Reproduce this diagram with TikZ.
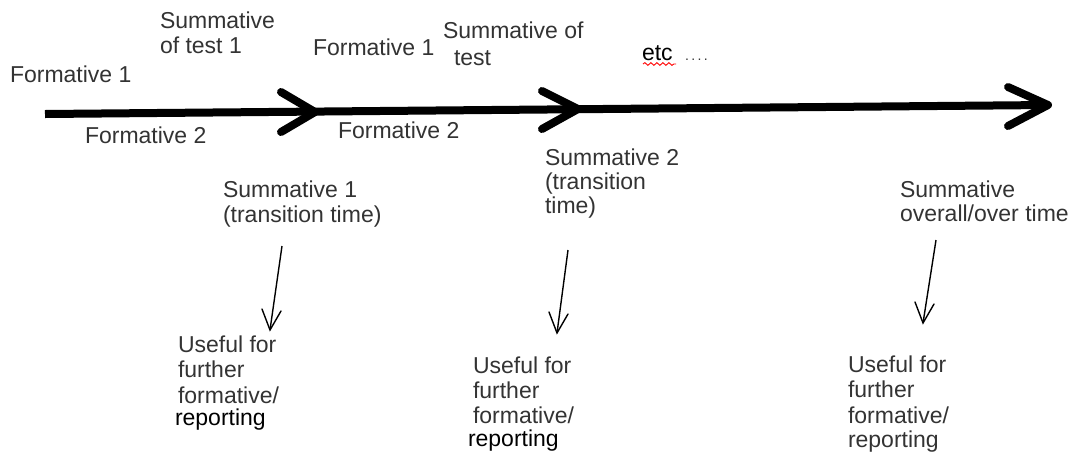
\documentclass[tikz,border=0pt]{standalone}
\usepackage{fontspec}
\setmainfont{Liberation Sans}
\usetikzlibrary{decorations.pathmorphing}
\definecolor{txt}{HTML}{333333}
\tikzset{
  lbl/.style={anchor=base west, inner sep=0pt, outer sep=0pt, text=txt, font=\fontsize{23}{25}\selectfont},
  blk/.style={lbl, text=black},
  mainline/.style={line width=8pt, black},
  chev/.style={line width=8pt, line cap=round, line join=round, black},
  down/.style={line width=1.4pt, black},
  head/.style={line width=1.4pt, black, line cap=round},
}
\begin{document}
\begin{tikzpicture}[x=1pt,y=-1pt]
\useasboundingbox (0,0) rectangle (1075,459);
% main timeline
\coordinate (start) at (45,114);
\coordinate (tip1) at (315,112);
\coordinate (tip2) at (578,109);
\coordinate (tip3) at (1048,105);
\draw[mainline] (start) -- (tip3);
\draw[chev] (281,92) -- (tip1) -- (281,132);
\draw[chev] (542,91) -- (tip2) -- (542,129);
\draw[chev] (1008,87) -- (tip3) -- (1008,126);

% labels above/below the line
\node[lbl] (f1a) at (10,82) {Formative 1};
\node[lbl] (s1a) at (160,28.5) {Summative};
\node[lbl] (s1b) at (160,53) {of test 1};
\node[lbl] (f2a) at (85,143) {Formative 2};
\node[lbl] (f1b) at (313,55) {Formative 1};
\node[lbl] (sob1) at (443,38) {Summative of};
\node[lbl] (sob2) at (454,65) {test};
\node[lbl] (f2b) at (338,138) {Formative 2};
\node[lbl, text=black] (etc) at (642,60) {etc};
\node[anchor=base west, inner sep=0pt, text=txt, font=\fontsize{14}{16}\selectfont] (dots) at (685,60) {.\,.\,.\,.};
\draw[red, line width=0.9pt, decorate, decoration={snake, amplitude=1.4pt, segment length=6pt}] (643,64) -- (676,64);

% summative blocks
\node[lbl] (sa1) at (223,197) {Summative 1};
\node[lbl] (sa2) at (223,222) {(transition time)};
\node[lbl] (sb1) at (545,165) {Summative 2};
\node[lbl] (sb2) at (545,189) {(transition};
\node[lbl] (sb3) at (545,213) {time)};
\node[lbl] (sc1) at (900,197) {Summative};
\node[lbl] (sc2) at (900,221) {overall/over time};

% down arrows
\coordinate (a1s) at (282,246);
\coordinate (a1e) at (270,330);
\coordinate (a2s) at (568,250);
\coordinate (a2e) at (557,333);
\coordinate (a3s) at (936,240);
\coordinate (a3e) at (923,323);
\draw[down] (a1s) -- (a1e);
\draw[head] (262,309) -- (a1e) -- (281,311);
\draw[down] (a2s) -- (a2e);
\draw[head] (549,312) -- (a2e) -- (568,314);
\draw[down] (a3s) -- (a3e);
\draw[head] (915,302) -- (a3e) -- (934,304);

% useful blocks
\node[lbl] (ua1) at (178,352) {Useful for};
\node[lbl] (ua2) at (178,377) {further};
\node[lbl] (ua3) at (178,403) {formative/};
\node[blk] (ua4) at (175,425) {reporting};
\node[lbl] (ub1) at (473,373) {Useful for};
\node[lbl] (ub2) at (473,398) {further};
\node[lbl] (ub3) at (473,423) {formative/};
\node[blk] (ub4) at (468,446) {reporting};
\node[lbl] (uc1) at (848,372) {Useful for};
\node[lbl] (uc2) at (848,397) {further};
\node[lbl] (uc3) at (848,423) {formative/};
\node[lbl] (uc4) at (848,447) {reporting};
\end{tikzpicture}
\end{document}
